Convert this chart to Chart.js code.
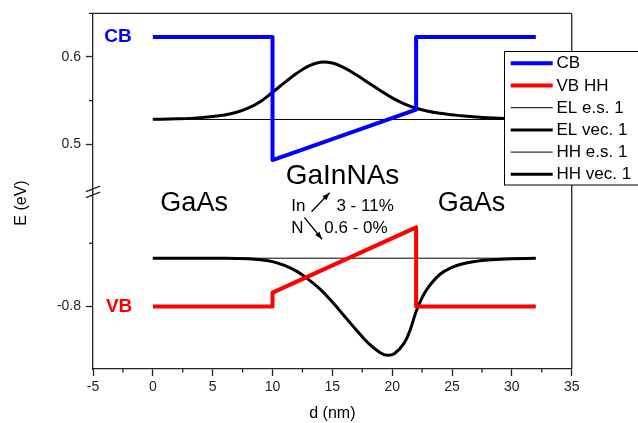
<!DOCTYPE html>
<html>
<head>
<meta charset="utf-8">
<script src="https://cdn.jsdelivr.net/npm/chart.js@4.4.1/dist/chart.umd.min.js"></script>
<style>
  html, body { margin: 0; padding: 0; background: #fff; }
</style>
</head>
<body>
<canvas id="bandChart" width="638" height="423"></canvas>
<script>
// band edges (x in nm, energy in eV)
const cbX = [0, 10, 10, 22, 22, 32];
const cbE = [0.623, 0.623, 0.4817, 0.5397, 0.623, 0.623];
const vbX = [0, 10, 10, 22, 22, 32];
const vbE = [-0.8, -0.8, -0.789, -0.7374, -0.8, -0.8];

// electron level and wavefunction
const elLevelX = [0, 32];
const elLevelE = [0.5283, 0.5283];
const elVecX = [0, 2, 4, 6, 7, 8, 9, 10, 11, 12, 13, 14, 15, 16, 17, 18, 19, 20, 21, 22, 23, 24, 25, 26, 28, 30, 32];
const elVecE = [0.5285, 0.529, 0.5304, 0.5335, 0.5365, 0.5415, 0.549, 0.5595, 0.5705, 0.581, 0.5895, 0.594, 0.593, 0.5875, 0.5795, 0.5705, 0.5615, 0.553, 0.5462, 0.5412, 0.5377, 0.5354, 0.5337, 0.5322, 0.5302, 0.5291, 0.5287];

// heavy hole level and wavefunction
const hhLevelX = [0, 32];
const hhLevelE = [-0.7618, -0.7618];
const hhVecX = [0, 5, 7, 8, 9, 10, 11, 12, 13, 14, 15, 16, 17, 18, 19, 19.6, 20.2, 21, 21.5, 22, 22.5, 23, 24, 25, 26, 27, 28, 30, 32];
const hhVecE = [-0.7618, -0.7619, -0.762, -0.7622, -0.763, -0.7645, -0.7675, -0.772, -0.7785, -0.7865, -0.7965, -0.8075, -0.8185, -0.829, -0.8365, -0.8386, -0.8372, -0.829, -0.8185, -0.804, -0.793, -0.785, -0.7745, -0.769, -0.766, -0.7643, -0.7633, -0.7622, -0.7619];

// axis ticks
const xTicks = [-5, 0, 5, 10, 15, 20, 25, 30, 35];
const xMinor = [-2.5, 2.5, 7.5, 12.5, 17.5, 22.5, 27.5, 32.5];
const upTicks = [0.5, 0.6];
const upMinor = [0.55, 0.65];
const loTicks = [-0.8];
const loMinor = [-0.75];

const FONT = "'Liberation Sans', Arial, sans-serif";
const axisColor = "#222";

const toPoints = (xs, ys) => xs.map((x, i) => ({ x: x, y: ys[i] }));

const decor = {
  id: "bandDecor",
  afterDraw(chart) {
    const ctx = chart.ctx;
    const area = chart.chartArea;
    const sx = chart.scales.x;
    const sUp = chart.scales.yUp;
    const sLo = chart.scales.yLo;
    const line = (x1, y1, x2, y2) => {
      ctx.beginPath();
      ctx.moveTo(x1, y1);
      ctx.lineTo(x2, y2);
      ctx.stroke();
    };
    const pt = (x, s, y) => [sx.getPixelForValue(x), s.getPixelForValue(y)];

    ctx.save();
    ctx.strokeStyle = axisColor;
    ctx.lineWidth = 1.3;
    // top and right frame
    line(area.left, area.top, area.right, area.top);
    line(area.right, area.top, area.right, area.bottom);

    // minor ticks
    xMinor.forEach(v => {
      const p = sx.getPixelForValue(v);
      line(p, area.bottom, p, area.bottom + 3.5);
    });
    upMinor.forEach(v => {
      const p = sUp.getPixelForValue(v);
      line(area.left - 4, p, area.left, p);
    });
    loMinor.forEach(v => {
      const p = sLo.getPixelForValue(v);
      line(area.left - 4, p, area.left, p);
    });

    // axis break marks
    const yb = sUp.bottom;
    ctx.lineWidth = 1.4;
    line(area.left - 7, yb - 0.5, area.left + 7, yb - 6);
    line(area.left - 7, yb + 5.5, area.left + 7, yb);

    // y axis title
    ctx.fillStyle = "#000";
    ctx.font = "16px " + FONT;
    ctx.save();
    ctx.translate(22, 203);
    ctx.rotate(-Math.PI / 2);
    ctx.textAlign = "center";
    ctx.textBaseline = "middle";
    ctx.fillText("E (eV)", 0, 0);
    ctx.restore();

    // band labels
    ctx.textBaseline = "middle";
    ctx.textAlign = "center";
    ctx.font = "bold 19px " + FONT;
    ctx.fillStyle = "#0000ff";
    let p = pt(-2.91, sUp, cbE[0]);
    ctx.fillText("CB", p[0], p[1]);
    ctx.fillStyle = "#ff0000";
    p = pt(-2.82, sLo, vbE[0]);
    ctx.fillText("VB", p[0], p[1]);

    // material labels
    ctx.fillStyle = "#000";
    ctx.textBaseline = "alphabetic";
    ctx.font = "27px " + FONT;
    p = pt(3.45, sLo, -0.7245);
    ctx.fillText("GaAs", p[0], p[1]);
    p = pt(26.63, sLo, -0.7245);
    ctx.fillText("GaAs", p[0], p[1]);
    ctx.font = "28px " + FONT;
    p = pt(15.85, sUp, 0.4542);
    ctx.fillText("GaInNAs", p[0], p[1]);

    ctx.textAlign = "left";
    ctx.font = "17px " + FONT;
    p = pt(11.57, sLo, -0.7245);
    ctx.fillText("In", p[0], p[1]);
    p = pt(15.34, sLo, -0.7245);
    ctx.fillText("3 - 11%", p[0], p[1]);
    p = pt(11.57, sLo, -0.7416);
    ctx.fillText("N", p[0], p[1]);
    p = pt(14.33, sLo, -0.7416);
    ctx.fillText("0.6 - 0%", p[0], p[1]);

    // composition arrows
    const arrow = (a, b) => {
      ctx.lineWidth = 1.3;
      ctx.strokeStyle = "#000";
      line(a[0], a[1], b[0], b[1]);
      const ang = Math.atan2(b[1] - a[1], b[0] - a[0]);
      ctx.beginPath();
      ctx.moveTo(b[0], b[1]);
      ctx.lineTo(b[0] - 8 * Math.cos(ang - 0.35), b[1] - 8 * Math.sin(ang - 0.35));
      ctx.lineTo(b[0] - 8 * Math.cos(ang + 0.35), b[1] - 8 * Math.sin(ang + 0.35));
      ctx.closePath();
      ctx.fillStyle = "#000";
      ctx.fill();
    };
    arrow(pt(13.26, sLo, -0.7251), pt(14.77, sLo, -0.7101));
    arrow(pt(12.66, sLo, -0.7295), pt(14.14, sLo, -0.7468));

    // legend box
    const bx = 504.5, by = 51.5, bw = 140, bh = 133.5;
    ctx.fillStyle = "#fff";
    ctx.fillRect(bx, by, bw, bh);
    ctx.lineWidth = 1;
    ctx.strokeStyle = "#000";
    ctx.strokeRect(bx, by, bw, bh);
    ctx.font = "17px " + FONT;
    ctx.textBaseline = "middle";
    ctx.textAlign = "left";
    chart.data.datasets.forEach((ds, i) => {
      const yy = 63.3 + i * 22.2;
      ctx.strokeStyle = ds.borderColor;
      ctx.lineWidth = ds.borderWidth;
      line(510.7, yy, 552.7, yy);
      ctx.fillStyle = "#000";
      ctx.fillText(ds.label, 556.5, yy + 0.5);
    });
    ctx.restore();
  }
};

const yAxisBase = {
  type: "linear",
  position: "left",
  stack: "energy",
  border: { color: axisColor, width: 1.3 },
  grid: { drawOnChartArea: false, tickLength: 7, color: axisColor, tickWidth: 1.3 },
  ticks: {
    color: axisColor,
    padding: 5,
    includeBounds: false,
    font: { family: FONT, size: 14 },
    callback: v => String(v)
  },
  afterFit: s => { s.width = 93; }
};

new Chart(document.getElementById("bandChart"), {
  type: "line",
  data: {
    datasets: [
      { label: "CB", data: toPoints(cbX, cbE), yAxisID: "yUp", borderColor: "#0000ff", borderWidth: 4, tension: 0 },
      { label: "VB HH", data: toPoints(vbX, vbE), yAxisID: "yLo", borderColor: "#ff0000", borderWidth: 4, tension: 0 },
      { label: "EL e.s. 1", data: toPoints(elLevelX, elLevelE), yAxisID: "yUp", borderColor: "#000", borderWidth: 1 },
      { label: "EL vec. 1", data: toPoints(elVecX, elVecE), yAxisID: "yUp", borderColor: "#000", borderWidth: 3, tension: 0.4 },
      { label: "HH e.s. 1", data: toPoints(hhLevelX, hhLevelE), yAxisID: "yLo", borderColor: "#000", borderWidth: 1 },
      { label: "HH vec. 1", data: toPoints(hhVecX, hhVecE), yAxisID: "yLo", borderColor: "#000", borderWidth: 3, tension: 0.4 }
    ]
  },
  options: {
    responsive: false,
    animation: false,
    devicePixelRatio: 1,
    layout: { padding: { top: 13, right: 66.3, left: 0, bottom: 0 } },
    elements: { point: { radius: 0 }, line: { borderCapStyle: "butt", borderJoinStyle: "round", fill: false } },
    plugins: { legend: { display: false }, tooltip: { enabled: false } },
    scales: {
      x: {
        type: "linear",
        position: "bottom",
        min: -5,
        max: 35,
        border: { color: axisColor, width: 1.3 },
        grid: { drawOnChartArea: false, tickLength: 7, color: axisColor, tickWidth: 1.3 },
        afterBuildTicks: s => { s.ticks = xTicks.map(v => ({ value: v })); },
        ticks: { color: axisColor, padding: 3, maxRotation: 0, font: { family: FONT, size: 14 } },
        title: { display: true, text: "d (nm)", color: "#000", font: { family: FONT, size: 16 }, padding: { top: 4, bottom: 0 } },
        afterFit: s => { s.height = 54; }
      },
      yUp: Object.assign({}, yAxisBase, {
        min: 0.445,
        max: 0.65,
        weight: 2,
        stackWeight: 179,
        afterBuildTicks: s => { s.ticks = upTicks.map(v => ({ value: v })); }
      }),
      yLo: Object.assign({}, yAxisBase, {
        min: -0.8494,
        max: -0.7095,
        weight: 1,
        stackWeight: 177.3,
        afterBuildTicks: s => { s.ticks = loTicks.map(v => ({ value: v })); }
      })
    }
  },
  plugins: [decor]
});
</script>
</body>
</html>
